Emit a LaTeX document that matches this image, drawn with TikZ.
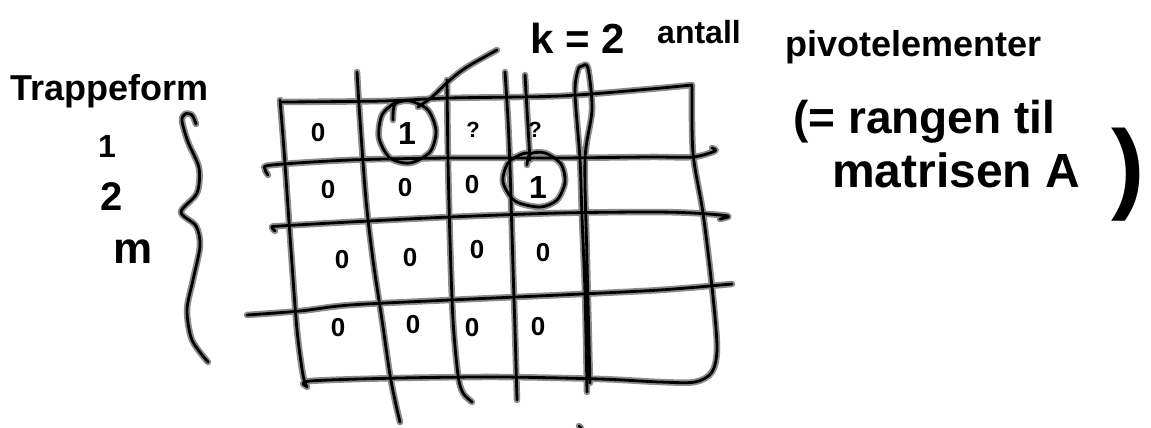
\documentclass[tikz,border=0pt]{standalone}
\usepackage{fontspec}
\setmainfont{Liberation Sans}
\newcommand\hw[2]{{\fontsize{#1}{#1}\selectfont\bfseries #2}}
\tikzset{
  halo/.style={draw=black!45, line width=6.5pt, line cap=round, line join=round},
  ink/.style={draw=black, line width=2.8pt, line cap=round, line join=round},
  word/.style={inner sep=0pt, anchor=base west, text=black},
  cell/.style={inner sep=0pt, anchor=center, text=black},
}
% every hand-drawn stroke, drawn once per pass
\newcommand\inkstrokes[1]{%
  % outer frame: top edge
  \draw[#1] plot[smooth] coordinates {(282,102) (383,101) (450,98) (560,96) (650,89) (692,85)};
  % right edge and bottom edge
  \draw[#1] plot[smooth] coordinates {(692,86) (693,153) (703,213) (712,287) (717,347) (712,372) (695,382) (660,382) (600,379) (500,377) (400,378) (310,381) (306,386)};
  % left edge
  \draw[#1] plot[smooth] coordinates {(280,100) (284,150) (291,250) (297,330) (303,375) (307,387)};
  % inner row lines
  \draw[#1] plot[smooth] coordinates {(268,175) (265,169) (272,165) (350,160) (450,158) (560,158) (650,157) (693,157) (715,151) (712,148)};
  \draw[#1] plot[smooth] coordinates {(275,231) (272,227) (280,226) (350,222) (450,217) (560,213) (650,212) (693,213) (728,216) (720,219)};
  \draw[#1] plot[smooth] coordinates {(247,315) (300,311) (350,305) (450,300) (560,295) (660,290) (732,284)};
  % inner column lines
  \draw[#1] plot[smooth] coordinates {(357,72) (360,120) (366,200) (373,260) (382,320) (390,375) (396,405) (400,422)};
  \draw[#1] plot[smooth] coordinates {(447,80) (448,160) (450,240) (453,320) (458,375) (463,393) (472,402)};
  \draw[#1] plot[smooth] coordinates {(505,72) (508,120) (510,167) (513,267) (515,330) (517,400)};
  \draw[#1] plot[smooth] coordinates {(525,75) (527,110) (530,160)};
  % doubled line after the last column
  \draw[#1] plot[smooth] coordinates {(587,392) (585,293) (582,217) (580,160) (575,93) (578,70) (582,66) (588,68) (592,110) (585,160) (587,260) (590,383)};
  % ring round the first pivot
  \draw[#1] plot[smooth] coordinates {(393,120) (395,104) (410,101) (428,110) (436,131) (430,152) (410,163) (390,158) (379,138) (382,115) (396,102) (404,101)};
  % ring round the second pivot
  \draw[#1] plot[smooth] coordinates {(527,165) (530,154) (545,153) (561,164) (565,182) (557,200) (540,207) (515,201) (503,182) (508,163) (522,154) (531,153)};
  % pointer to the label
  \draw[#1] plot[smooth] coordinates {(p0) (432,97) (450,80) (467,67) (ptip)};
  % brace
  \draw[#1] plot[smooth] coordinates {(196,124) (192,115) (185,114) (182,121) (188,142) (199,168) (197,193) (181,212) (196,226) (200,246) (193,280) (187,310) (192,340) (208,362)};
  % stray dot
  \draw[#1] (579,426) -- (581,428);
}
\begin{document}
\begin{tikzpicture}[x=1pt,y=-1pt]
\useasboundingbox[fill=white] (0,0) rectangle (1151,428);
\coordinate (p0) at (418,107);
\coordinate (ptip) at (497,50);
\inkstrokes{halo}
\inkstrokes{ink}
% left-hand labels
\node[word] (title) at (10,100) {\hw{36pt}{Trappeform}};
\node[cell] (r1) at (107,146) {\hw{32pt}{1}};
\node[cell] (r2) at (112,197) {\hw{40pt}{2}};
\node[cell] (rm) at (133,252) {\hw{44pt}{m}};
% right-hand labels
\node[word] (kval) at (530,53) {\hw{42pt}{k = 2}};
\node[word] (antall) at (657,44) {\hw{32pt}{antall}};
\node[word] (pivot) at (785,57) {\hw{36pt}{pivotelementer}};
\node[word] (rang) at (793,133) {\hw{46pt}{(= rangen til}};
\node[word] (matr) at (832,187) {\hw{48pt}{matrisen A}};
\node[cell] (close) at (1128,175) {\hw{100pt}{)}};
% matrix entries
\node[cell] (a11) at (318,133) {\hw{26pt}{0}};
\node[cell] (a12) at (407,133) {\hw{32pt}{1}};
\node[cell] (a13) at (473,130) {\hw{22pt}{?}};
\node[cell] (a14) at (535,130) {\hw{22pt}{?}};
\node[cell] (a21) at (328,190) {\hw{26pt}{0}};
\node[cell] (a22) at (405,188) {\hw{26pt}{0}};
\node[cell] (a23) at (472,185) {\hw{26pt}{0}};
\node[cell] (a24) at (538,187) {\hw{32pt}{1}};
\node[cell] (a31) at (342,260) {\hw{26pt}{0}};
\node[cell] (a32) at (410,258) {\hw{26pt}{0}};
\node[cell] (a33) at (477,250) {\hw{26pt}{0}};
\node[cell] (a34) at (543,253) {\hw{26pt}{0}};
\node[cell] (a41) at (338,328) {\hw{26pt}{0}};
\node[cell] (a42) at (413,325) {\hw{26pt}{0}};
\node[cell] (a43) at (472,328) {\hw{26pt}{0}};
\node[cell] (a44) at (538,327) {\hw{26pt}{0}};
\end{tikzpicture}
\end{document}
